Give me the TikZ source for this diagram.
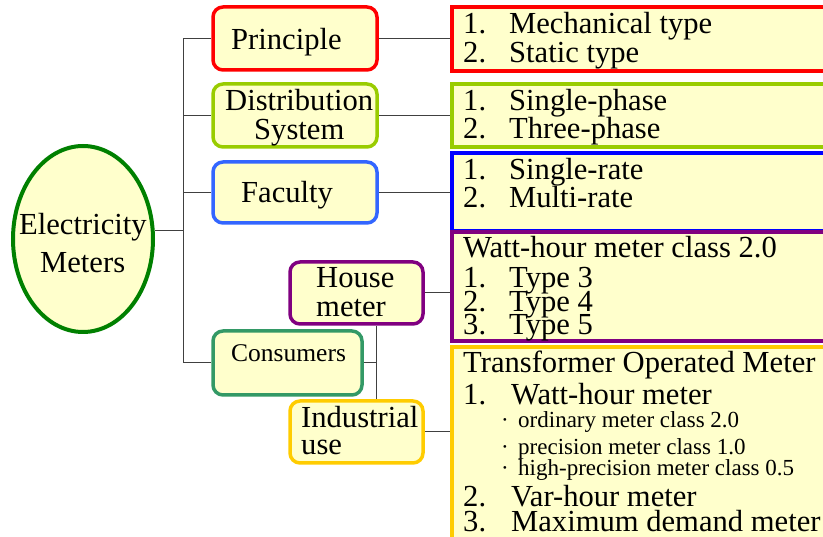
\documentclass[tikz,border=0pt]{standalone}
\usepackage{fontspec}
\setmainfont{Liberation Serif}
\usetikzlibrary{shapes.geometric}
\definecolor{fillY}{HTML}{FFFFCC}
\definecolor{cRed}{HTML}{FF0000}
\definecolor{cLime}{HTML}{99CC00}
\definecolor{cBlueL}{HTML}{3366FF}
\definecolor{cBlue}{HTML}{0000FF}
\definecolor{cPurple}{HTML}{800080}
\definecolor{cSea}{HTML}{339966}
\definecolor{cGold}{HTML}{FFCC00}
\definecolor{cGreen}{HTML}{008000}
\definecolor{cLine}{HTML}{404040}
\begin{document}
\begin{tikzpicture}[x=1pt,y=-1pt,
  lbox/.style={draw=#1, line width=3.5pt, rounded corners=10pt, fill=fillY, inner sep=0pt},
  rbox/.style={draw=#1, line width=3.5pt, fill=fillY, minimum width=380pt, inner sep=0pt},
  big/.style={anchor=base west, inner sep=0pt, font=\fontsize{30.6}{30.6}\selectfont},
  mid/.style={anchor=base west, inner sep=0pt, font=\fontsize{25.5}{25.5}\selectfont},
  small/.style={anchor=base west, inner sep=0pt, font=\fontsize{23}{23}\selectfont},
  conn/.style={draw=cLine, line width=1pt}]
\useasboundingbox (0,0) rectangle (823,537);
\clip (0,0) rectangle (823,537);

% right boxes
\node[rbox=cRed, minimum height=64pt] (r1) at (642,39) {};
\node[rbox=cLime, minimum height=63pt] (r2) at (642,115.5) {};
\node[rbox=cBlue, minimum height=78pt] (r3) at (642,192) {};
\node[rbox=cPurple, minimum height=109pt] (r4) at (642,286.5) {};
\node[rbox=cGold, minimum height=213pt] (r5) at (642,453.5) {};

% left boxes
\node[lbox=cRed, minimum width=164pt, minimum height=63pt] (prin) at (295,38.5) {};
\node[lbox=cLime, minimum width=164pt, minimum height=63pt] (dist) at (295,115.5) {};
\node[lbox=cBlueL, minimum width=164pt, minimum height=61pt] (fac) at (295,192.5) {};
\node[lbox=cPurple, minimum width=133pt, minimum height=62pt] (house) at (356.5,293) {};
\node[lbox=cSea, minimum width=149pt, minimum height=64pt] (cons) at (287.5,363) {};
\node[lbox=cGold, minimum width=133pt, minimum height=62pt] (ind) at (356.5,432) {};
\node[ellipse, draw=cGreen, line width=4pt, fill=fillY, minimum width=140pt, minimum height=186pt, inner sep=0pt] (el) at (83,239) {};

% connectors
\coordinate (ta) at (183,38.5);
\coordinate (tb) at (183,363);
\coordinate (v) at (376,363);
\draw[conn] (ta) -- (tb);
\draw[conn] ([yshift=8pt]el.east) -- ([yshift=8pt]el.east -| ta);
\draw[conn] (prin.west -| ta) -- (prin.west);
\draw[conn] (dist.west -| ta) -- (dist.west);
\draw[conn] (fac.west -| ta) -- (fac.west);
\draw[conn] (cons.west -| ta) -- (cons.west);
\draw[conn] (cons.east) -- (v);
\draw[conn] (v |- house.south) -- (v |- ind.north);
\draw[conn] (prin.east) -- (prin.east -| r1.west);
\draw[conn] (dist.east) -- (dist.east -| r2.west);
\draw[conn] (fac.east) -- (fac.east -| r3.west);
\draw[conn] (house.east) -- (house.east -| r4.west);
\draw[conn] (ind.east) -- (ind.east -| r5.west);

% left texts
\node[big] (tel1) at (19,235) {Electricity};
\node[big] (tel2) at (40,273) {Meters};
\node[big] (tprin) at (231,50) {Principle};
\node[big] (tdist1) at (225,111) {Distribution};
\node[big] (tdist2) at (254,140) {System};
\node[big] (tfac) at (241,203) {Faculty};
\node[big] (thou1) at (316,288) {House};
\node[big] (thou2) at (316,317) {meter};
\node[mid] (tcons) at (231,362) {Consumers};
\node[big] (tind1) at (301,428) {Industrial};
\node[big] (tind2) at (301,455) {use};

% right texts
\node[big] (n11) at (463,34) {1.};
\node[big] (a11) at (509,34) {Mechanical type};
\node[big] (n12) at (463,63) {2.};
\node[big] (a12) at (509,63) {Static type};
\node[big] (n21) at (463,111) {1.};
\node[big] (a21) at (509,111) {Single-phase};
\node[big] (n22) at (463,139) {2.};
\node[big] (a22) at (509,139) {Three-phase};
\node[big] (n31) at (463,180) {1.};
\node[big] (a31) at (509,180) {Single-rate};
\node[big] (n32) at (463,208) {2.};
\node[big] (a32) at (509,208) {Multi-rate};
\node[big] (h4) at (463,258) {Watt-hour meter class 2.0};
\node[big] (n41) at (463,288) {1.};
\node[big] (a41) at (509,288) {Type 3};
\node[big] (n42) at (463,312) {2.};
\node[big] (a42) at (509,312) {Type 4};
\node[big] (n43) at (463,335) {3.};
\node[big] (a43) at (509,335) {Type 5};
\node[big] (h5) at (463,373) {Transformer Operated Meter};
\node[big] (n51) at (463,405) {1.};
\node[big] (a51) at (511,405) {Watt-hour meter};
\node[small] (b1) at (501,428) {·};
\node[small] (s1) at (518,428) {ordinary meter class 2.0};
\node[small] (b2) at (501,455) {·};
\node[small] (s2) at (518,455) {precision meter class 1.0};
\node[small] (b3) at (501,476) {·};
\node[small] (s3) at (518,476) {high-precision meter class 0.5};
\node[big] (n52) at (463,507) {2.};
\node[big] (a52) at (511,507) {Var-hour meter};
\node[big] (n53) at (463,532) {3.};
\node[big] (a53) at (511,532) {Maximum demand meter};
\end{tikzpicture}
\end{document}
